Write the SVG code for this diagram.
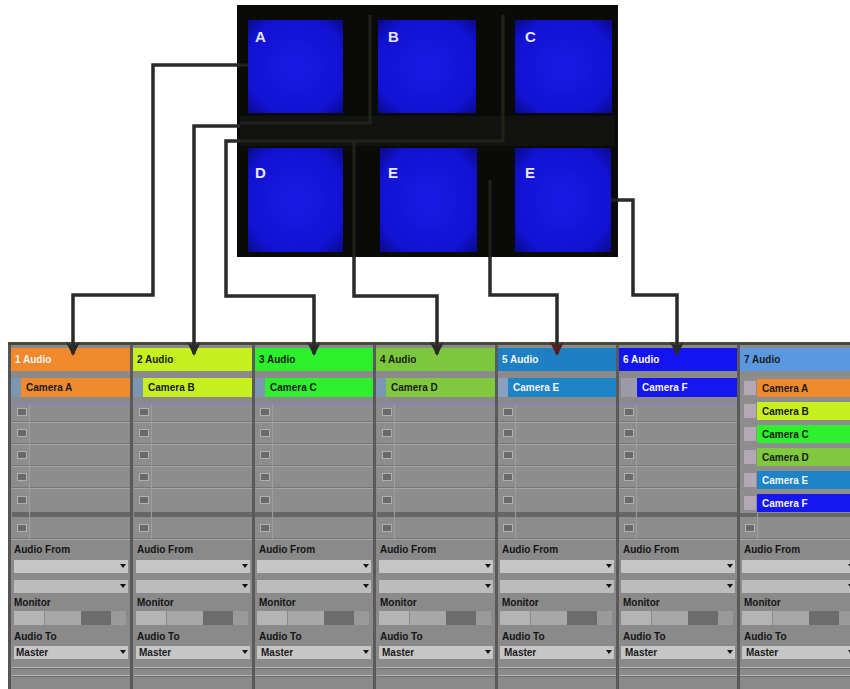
<svg xmlns="http://www.w3.org/2000/svg" xmlns:xlink="http://www.w3.org/1999/xlink" width="850" height="689" viewBox="0 0 850 689">
<style>
.lbl{font-family:"Liberation Sans",Arial,sans-serif;font-weight:bold;font-size:10px;fill:#141414}
.hdr{font-family:"Liberation Sans",Arial,sans-serif;font-weight:bold;font-size:10px;fill:#f4f4f4}
.clip{font-family:"Liberation Sans",Arial,sans-serif;font-weight:bold;font-size:10px;fill:#1a1a1a}
.big{font-family:"Liberation Sans",Arial,sans-serif;font-weight:bold;font-size:15px;fill:#e8e8ff}
.conn{fill:none;stroke:#2a2a2a;stroke-width:3.5;stroke-linejoin:miter}
.inner{fill:none;stroke:#222218;stroke-width:3}
.sq{fill:url(#blue)}
.dd{fill:#c6c6c6}
.tri{fill:#111}
</style>
<defs>
<radialGradient id="blue" cx="0.5" cy="0.5" r="0.7">
<stop offset="0" stop-color="#1a1ae6"/>
<stop offset="0.75" stop-color="#1212d2"/>
<stop offset="1" stop-color="#0a0a8a"/>
</radialGradient>
<marker id="ah" viewBox="0 0 14 14" refX="12" refY="7" markerWidth="14" markerHeight="14" markerUnits="userSpaceOnUse" orient="auto">
<path d="M0,0 L14,7 L0,14 L4,7 Z" fill="#2a2a2a"/>
</marker>
<marker id="ahr" viewBox="0 0 14 14" refX="12" refY="7" markerWidth="14" markerHeight="14" markerUnits="userSpaceOnUse" orient="auto">
<path d="M0,0 L14,7 L0,14 L4,7 Z" fill="#5a1c1c"/>
</marker>
<g id="slots">
<rect x="0" y="405" width="118" height="135" fill="#8d8d8d"/>
<rect x="0" y="403" width="118" height="2" fill="#8a84b4"/>
<path d="M0,422.5H118M0,444.5H118M0,466.5H118M0,488.5H118M0,539.5H118" stroke="#a6a6a6" stroke-width="1"/>
<path d="M0,421.5H118M0,443.5H118M0,465.5H118M0,487.5H118M0,538.5H118" stroke="#767676" stroke-width="1"/>
<rect x="0" y="512" width="118" height="5" fill="#666"/>
<path d="M17.5,405V540" stroke="#9e9e9e" stroke-width="1"/>
<g fill="#6a6a6a" stroke="#b0b0b0" stroke-width="1">
<rect x="5.5" y="408.5" width="9" height="7"/>
<rect x="5.5" y="429.5" width="9" height="7"/>
<rect x="5.5" y="451.5" width="9" height="7"/>
<rect x="5.5" y="473.5" width="9" height="7"/>
<rect x="5.5" y="496.5" width="9" height="7"/>
<rect x="5.5" y="524.5" width="9" height="7"/>
</g>
</g>
<g id="io">
<rect x="0" y="540" width="118" height="149" fill="#8a8a8a"/>
<rect x="2" y="560" width="114" height="13" class="dd"/>
<path d="M108,564h6l-3,4z" class="tri"/>
<rect x="2" y="580" width="114" height="13" fill="#bcbcbc"/>
<path d="M108,584h6l-3,4z" class="tri"/>
<rect x="2" y="611" width="30" height="14" fill="#b4b4b4"/>
<rect x="33" y="611" width="36" height="14" fill="#a8a8a8"/>
<rect x="69" y="611" width="30" height="14" fill="#6c6c6c"/>
<rect x="99" y="611" width="15" height="14" fill="#9a9a9a"/>
<rect x="2" y="646" width="114" height="13" class="dd"/>
<path d="M108,650h6l-3,4z" class="tri"/>
<path d="M0,667.5H118M0,675.5H118" stroke="#b4b4b4" stroke-width="1"/>
<path d="M0,668.5H118M0,676.5H118" stroke="#6e6e6e" stroke-width="1"/>
</g>
</defs>

<rect x="0" y="0" width="850" height="689" fill="#ffffff"/>

<g id="video-panel">
<rect x="237" y="5" width="381" height="252" fill="#0a0a08"/>
<rect x="240" y="116" width="375" height="30" fill="#121210"/>
<path class="inner" d="M237,65H248M240,123H370V15M237,141H503V15M354,141V257M490,180V257M610,200H618"/>
</g>
<g id="screen-A"><rect class="sq" x="248" y="20" width="95" height="93"/><text class="big" x="255" y="42">A</text></g>
<g id="screen-B"><rect class="sq" x="378" y="20" width="98" height="93"/><text class="big" x="388" y="42">B</text></g>
<g id="screen-C"><rect class="sq" x="515" y="20" width="97" height="93"/><text class="big" x="525" y="42">C</text></g>
<g id="screen-D"><rect class="sq" x="248" y="148" width="95" height="104"/><text class="big" x="255" y="178">D</text></g>
<g id="screen-E"><rect class="sq" x="380" y="148" width="97" height="104"/><text class="big" x="388" y="178">E</text></g>
<g id="screen-F"><rect class="sq" x="515" y="148" width="96" height="104"/><text class="big" x="525" y="178">E</text></g>

<g id="mixer">
<rect x="8" y="343" width="842" height="346" fill="#8a8a8a"/>
<rect x="8" y="342" width="842" height="3" fill="#4a4a3a"/>
<rect x="8" y="345" width="3" height="344" fill="#555"/>
<g fill="#5a5a5a">
<rect x="130" y="345" width="3" height="344"/>
<rect x="252" y="345" width="3" height="344"/>
<rect x="373" y="345" width="3" height="344"/>
<rect x="495" y="345" width="3" height="344"/>
<rect x="616" y="345" width="3" height="344"/>
<rect x="737" y="345" width="3" height="344"/>
</g>
</g>

<g id="track-1">
<use xlink:href="#slots" x="12"/><use xlink:href="#io" x="12"/>
<rect x="11" y="348" width="119" height="23" fill="#f0882c"/>
<text class="hdr" x="15" y="363">1 Audio</text>
<rect x="11" y="378" width="10" height="19" fill="#7a96b0"/>
<rect x="21" y="378" width="109" height="19" fill="#f08a2e"/>
<text class="clip" x="26" y="391">Camera A</text>
<text class="lbl" x="14" y="553">Audio From</text>
<text class="lbl" x="14" y="606">Monitor</text>
<text class="lbl" x="14" y="640">Audio To</text>
<text class="clip" x="16" y="656">Master</text>
</g>
<g id="track-2">
<use xlink:href="#slots" x="134"/><use xlink:href="#io" x="134"/>
<rect x="133" y="348" width="119" height="23" fill="#c6f01e"/>
<text class="clip" x="137" y="363">2 Audio</text>
<rect x="133" y="378" width="10" height="19" fill="#7a96b0"/>
<rect x="143" y="378" width="109" height="19" fill="#c8f020"/>
<text class="clip" x="148" y="391">Camera B</text>
<text class="lbl" x="137" y="553">Audio From</text>
<text class="lbl" x="137" y="606">Monitor</text>
<text class="lbl" x="137" y="640">Audio To</text>
<text class="clip" x="139" y="656">Master</text>
</g>
<g id="track-3">
<use xlink:href="#slots" x="255"/><use xlink:href="#io" x="255"/>
<rect x="255" y="348" width="118" height="23" fill="#2cf02c"/>
<text class="clip" x="259" y="363">3 Audio</text>
<rect x="255" y="378" width="10" height="19" fill="#7a96b0"/>
<rect x="265" y="378" width="108" height="19" fill="#2ef02e"/>
<text class="clip" x="270" y="391">Camera C</text>
<text class="lbl" x="259" y="553">Audio From</text>
<text class="lbl" x="259" y="606">Monitor</text>
<text class="lbl" x="259" y="640">Audio To</text>
<text class="clip" x="261" y="656">Master</text>
</g>
<g id="track-4">
<use xlink:href="#slots" x="377"/><use xlink:href="#io" x="377"/>
<rect x="376" y="348" width="119" height="23" fill="#7cc83c"/>
<text class="clip" x="380" y="363">4 Audio</text>
<rect x="376" y="378" width="10" height="19" fill="#7a96b0"/>
<rect x="386" y="378" width="109" height="19" fill="#80c83e"/>
<text class="clip" x="391" y="391">Camera D</text>
<text class="lbl" x="380" y="553">Audio From</text>
<text class="lbl" x="380" y="606">Monitor</text>
<text class="lbl" x="380" y="640">Audio To</text>
<text class="clip" x="382" y="656">Master</text>
</g>
<g id="track-5">
<use xlink:href="#slots" x="498"/><use xlink:href="#io" x="498"/>
<rect x="498" y="348" width="118" height="23" fill="#1e80c4"/>
<text class="hdr" x="502" y="363">5 Audio</text>
<rect x="498" y="378" width="10" height="19" fill="#8aa0c0"/>
<rect x="508" y="378" width="108" height="19" fill="#1e84c8"/>
<text class="hdr" x="513" y="391">Camera E</text>
<text class="lbl" x="502" y="553">Audio From</text>
<text class="lbl" x="502" y="606">Monitor</text>
<text class="lbl" x="502" y="640">Audio To</text>
<text class="clip" x="504" y="656">Master</text>
</g>
<g id="track-6">
<use xlink:href="#slots" x="619"/><use xlink:href="#io" x="619"/>
<rect x="619" y="348" width="118" height="23" fill="#1414f0"/>
<text class="hdr" x="623" y="363">6 Audio</text>
<rect x="621" y="378" width="16" height="19" fill="#9a9aa8"/>
<rect x="637" y="378" width="100" height="19" fill="#1616f0"/>
<text class="hdr" x="642" y="391">Camera F</text>
<text class="lbl" x="623" y="553">Audio From</text>
<text class="lbl" x="623" y="606">Monitor</text>
<text class="lbl" x="623" y="640">Audio To</text>
<text class="clip" x="625" y="656">Master</text>
</g>
<g id="track-7">
<use xlink:href="#slots" x="740"/><use xlink:href="#io" x="740"/>
<rect x="740" y="348" width="110" height="23" fill="#5a98e0"/>
<text class="clip" x="744" y="363">7 Audio</text>
<rect x="740" y="376" width="110" height="137" fill="#8d8d8d"/>
<g fill="#b4a8b4">
<rect x="744" y="381" width="12" height="14"/><rect x="744" y="404" width="12" height="14"/><rect x="744" y="427" width="12" height="14"/>
<rect x="744" y="450" width="12" height="14"/><rect x="744" y="473" width="12" height="14"/><rect x="744" y="496" width="12" height="14"/>
</g>
<rect x="757" y="379" width="93" height="18" fill="#f08a2e"/>
<rect x="757" y="402" width="93" height="18" fill="#c8f020"/>
<rect x="757" y="425" width="93" height="18" fill="#2ef02e"/>
<rect x="757" y="448" width="93" height="18" fill="#80c83e"/>
<rect x="757" y="471" width="93" height="18" fill="#1e84c8"/>
<rect x="757" y="494" width="93" height="18" fill="#1616f0"/>
<text class="clip" x="762" y="392">Camera A</text>
<text class="clip" x="762" y="415">Camera B</text>
<text class="clip" x="762" y="438">Camera C</text>
<text class="clip" x="762" y="461">Camera D</text>
<text class="hdr" x="762" y="484">Camera E</text>
<text class="hdr" x="762" y="507">Camera F</text>
<text class="lbl" x="744" y="553">Audio From</text>
<text class="lbl" x="744" y="606">Monitor</text>
<text class="lbl" x="744" y="640">Audio To</text>
<text class="clip" x="746" y="656">Master</text>
</g>

<g id="connectors">
<path class="conn" marker-end="url(#ah)" d="M240,65H153V295H73V354"/>
<path class="conn" marker-end="url(#ah)" d="M240,126H194V354"/>
<path class="conn" marker-end="url(#ah)" d="M240,141H226V296H314V354"/>
<path class="conn" marker-end="url(#ah)" d="M354,257V296H437V354"/>
<path class="conn" marker-end="url(#ahr)" d="M490,257V295H557V354"/>
<path class="conn" marker-end="url(#ah)" d="M618,200H633V295H677V354"/>
</g>
</svg>
